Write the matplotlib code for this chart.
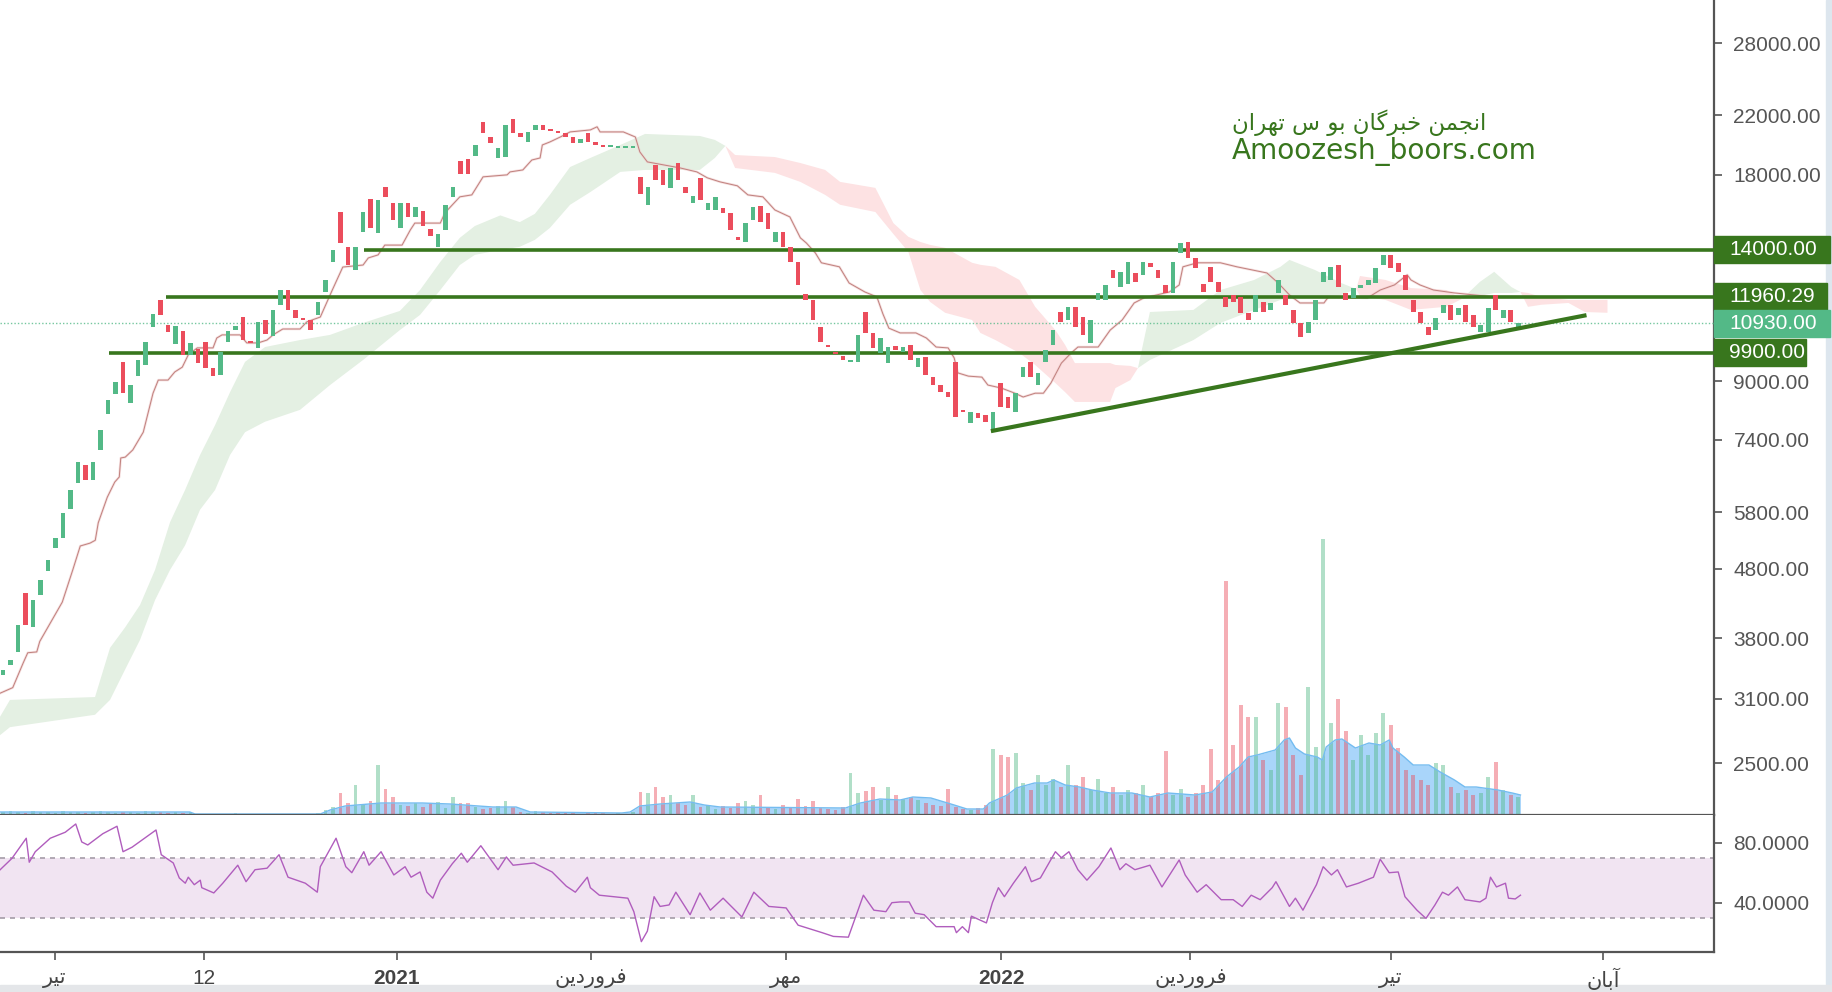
import numpy as np
import matplotlib.pyplot as plt
from matplotlib.patches import Rectangle
from matplotlib.transforms import IdentityTransform

plt.rcParams['font.family'] = ['Liberation Sans', 'DejaVu Sans']

# one entry per candle (bar index 0..202)
opens = [
    3360, 3480, 3630, 4430, 3950, 4400, 4760, 5140, 5320, 5870,
    6400, 6800, 6460, 7150, 8070, 8620, 9610, 8380, 9160, 9510,
    10810, 11830, 10880, 10200, 10650, 9840, 10030, 10270, 9410, 9190,
    10270, 10690, 11170, 10270, 10070, 11060, 10480, 11640, 12230, 11440,
    11140, 11060, 11250, 12150, 13440, 15890, 14140, 13080, 14860, 16610,
    14810, 17280, 16390, 15060, 16390, 15630, 15950, 15010, 14140, 14960,
    16720, 18860, 18980, 19180, 21500, 20440, 19050, 19110, 21710, 20730,
    20100, 20930, 21280, 20930, 20860, 20730, 20440, 20040, 20730, 20100,
    19900, 19770, 19700, 19700, 19700, 17880, 16280, 18610, 18300, 17230,
    18730, 17280, 16390, 17820, 16000, 16000, 16110, 15840, 14620, 14370,
    15470, 16220, 15840, 14370, 14860, 14140, 13440, 12060, 11830, 10790,
    10170, 9930, 9800, 9610, 9610, 11360, 10590, 9900, 9570, 10140,
    9930, 10170, 9440, 9770, 9130, 8890, 8680, 9610, 8180, 7830,
    8100, 8050, 7590, 8950, 8540, 8130, 9130, 9610, 8890, 9610,
    10170, 11360, 11060, 11560, 11170, 10240, 11830, 11830, 13080, 12350,
    12480, 12950, 12870, 13400, 13080, 12440, 12110, 13850, 14370, 13620,
    12480, 13220, 12570, 11950, 12030, 11950, 11330, 11360, 11750, 11440,
    12110, 12030, 11440, 10950, 10590, 11060, 12570, 12650, 13300, 12110,
    11910, 12310, 12440, 12520, 13300, 13760, 13400, 12870, 11830, 11360,
    10790, 10690, 11330, 11640, 11250, 11640, 11250, 10620, 10620, 12030,
    11140, 11440, 10690,
]
closes = [
    3420, 3530, 3970, 3970, 4320, 4620, 4940, 5320, 5790, 6250,
    6870, 6460, 6870, 7640, 8460, 8980, 8650, 8890, 9670, 10270,
    11290, 11250, 10620, 10840, 9840, 10240, 9570, 9410, 9160, 9930,
    10650, 10840, 10340, 10240, 10990, 10550, 11440, 12230, 11440, 11140,
    11060, 10690, 11750, 12650, 13990, 14320, 13300, 14140, 15890, 15060,
    16550, 16720, 15470, 16390, 15630, 16160, 15160, 14670, 14760, 16280,
    17280, 18060, 18060, 19900, 20730, 20040, 19700, 21280, 20730, 20440,
    20790, 21280, 20930, 20860, 20730, 20440, 20040, 20310, 20100, 19900,
    19770, 19770, 19700, 19700, 19700, 16880, 17280, 17700, 17410, 18420,
    17700, 16940, 16780, 16550, 16390, 16720, 15840, 14960, 14470, 15310,
    16160, 15360, 15010, 14860, 14140, 13440, 12440, 11830, 11060, 10270,
    10100, 9870, 9670, 9610, 10520, 10590, 10070, 10410, 10100, 10000,
    10100, 9670, 9740, 9190, 8890, 8680, 8540, 7990, 8130, 8130,
    7960, 7860, 8130, 8260, 8240, 8650, 9440, 9130, 9260, 10000,
    10690, 10990, 11560, 10790, 10520, 11060, 12110, 12440, 12730, 13000,
    13440, 12570, 13440, 13220, 12730, 12110, 13440, 14320, 13620, 13170,
    12150, 12570, 12150, 11560, 11750, 11330, 11060, 12030, 11360, 11710,
    12650, 11640, 10950, 10440, 10990, 11830, 13000, 13220, 12350, 11830,
    12310, 12440, 12650, 13170, 13760, 13170, 13000, 12230, 11360, 10950,
    10520, 11140, 11640, 11060, 11520, 10990, 10790, 10880, 11520, 11440,
    11440, 10990, 10930,
]
volumes = [
    3, 4, 3, 2, 4, 3, 3, 2, 4, 3, 3, 2, 3, 4, 3, 2, 3, 3, 2, 4, 3, 3, 2, 3, 2, 3,
    1, 0, 1, 0, 0, 2, 0, 1, 0, 0, 1, 0, 0, 0, 0, 1, 2,
    5, 8, 22, 12, 30, 10, 14, 50, 26, 18, 10,
    9, 12, 8, 11, 13, 7, 18, 12, 12,
    8, 6, 7, 9, 14, 8,
    3, 2, 4, 3, 2, 3, 2, 2, 1, 3, 2, 2, 1, 2, 1, 3,
    23, 22, 28, 18, 20, 12, 10, 20,
    8, 10, 6, 9, 7, 12, 14, 10, 20, 8, 6, 10, 8, 16, 9, 14, 7, 6, 5, 8,
    42, 22, 24, 28, 15, 28, 20, 16,
    18, 15, 12, 10, 9, 26, 8, 6, 5, 7,
    10, 66, 60, 58, 62, 32,
    25, 40, 30, 36, 28, 50, 30, 38, 25, 36, 22, 28, 20, 25, 22, 30, 18, 22, 64, 20,
    26, 18, 22, 30, 66, 35,
    234, 70, 110, 98, 98, 55, 45, 112, 108, 60, 40, 128, 68, 276, 92, 116, 84, 55, 80, 60,
    82, 102, 90, 67, 45, 40, 35, 30, 52, 50, 28, 22, 25, 20, 22, 38, 53, 25, 20, 18,
]

# volume moving average
vol_ma_x = [-0.4, 24.9, 25.6, 42.3, 43.6, 45.6, 50.4, 55.9, 59.6, 65.3,
            68.4, 70.3, 82.5, 83.6, 84.9, 87.6, 91.6, 93.5, 95.6, 112.3,
            114.3, 116.9, 119.6, 121.3, 123.7, 126.8, 128.5, 130.7, 131.5, 133.9,
            135.1, 137.5, 139.2, 140.1, 141.6, 143.5, 145.2, 147.6, 150.5, 152.9,
            155.3, 158.9, 161.2, 163.1, 164.8, 166.0, 167.2, 169.6, 170.8, 171.5,
            172.3, 173.5, 175.2, 175.9, 176.4, 177.6, 178.5, 180.3, 182.1, 183.6,
            184.8, 185.3, 186.8, 188.0, 190.1, 191.6, 193.5, 194.9, 196.4, 199.3,
            201.2, 202.3]
vol_ma = [3, 3, 1, 1, 5, 9, 12, 12, 11, 8,
          8, 3, 2, 3, 9, 11, 13, 10, 8, 7,
          12, 16, 15, 18, 17, 10, 6, 6, 12, 20,
          27, 32, 32, 35, 30, 28, 25, 22, 22, 18,
          22, 20, 23, 38, 48, 58, 60, 65, 75, 77,
          67, 61, 58, 55, 68, 75, 76, 67, 72, 70,
          75, 67, 58, 50, 50, 43, 35, 28, 28, 25,
          22, 20]

# ichimoku base line
kijun_x = [-0.4, 1.3, 2.7, 3.3, 4.5, 4.9, 6.3, 7.9, 9.3, 10.3,
           11.6, 12.3, 12.7, 13.9, 14.9, 15.5, 15.7, 16.3, 17.3, 18.7,
           20.0, 20.7, 22.0, 22.9, 23.9, 24.7, 25.9, 28.0, 28.5, 29.2,
           31.6, 32.5, 34.0, 35.2, 36.0, 37.3, 39.6, 40.5, 42.3, 43.9,
           45.3, 48.0, 48.7, 50.0, 50.9, 53.2, 54.3, 54.9, 58.3, 58.9,
           60.9, 62.5, 64.0, 67.2, 67.6, 69.3, 70.5, 71.6, 71.9, 72.9,
           74.3, 75.6, 78.3, 79.2, 79.6, 82.7, 84.3, 84.9, 85.9, 90.3,
           92.5, 93.9, 95.6, 97.9, 99.3, 101.3, 102.9, 104.9, 106.3, 107.1,
           108.3, 109.1, 111.5, 112.8, 114.9, 116.5, 117.3, 118.1, 119.6, 121.7,
           123.1, 124.4, 126.0, 126.8, 127.3, 128.7, 130.5, 131.3, 133.1, 134.9,
           136.0, 137.6, 138.7, 139.7, 141.1, 142.4, 143.3, 146.0, 147.6, 149.2,
           150.8, 152.1, 155.5, 156.8, 157.3, 159.2, 162.3, 164.5, 168.5, 170.0,
           171.5, 172.9, 176.1, 176.7, 181.9, 183.6, 185.5, 187.2, 187.7, 188.9,
           190.7, 193.5, 198.8, 202.3]
kijun = [3160, 3220, 3500, 3620, 3630, 3760, 4000, 4290, 4780, 5180,
         5230, 5280, 5600, 6100, 6420, 6530, 6960, 6980, 7150, 7590,
         8650, 9040, 9040, 9290, 9440, 9840, 10070, 10070, 10410, 10520,
         10520, 10240, 10240, 10340, 10520, 10730, 10730, 10990, 11170, 12230,
         13210, 13300, 13620, 13760, 14220, 14220, 14960, 15310, 15310, 15840,
         16720, 16830, 17880, 18000, 18180, 18300, 18920, 19050, 19900, 20100,
         20440, 20790, 20930, 21150, 20790, 20790, 20440, 19440, 18800, 18420,
         18180, 17820, 17580, 17350, 16830, 16720, 16000, 15630, 14570, 14320,
         13850, 13400, 13220, 12520, 12150, 11950, 11290, 10760, 10590, 10590,
         10410, 10100, 10070, 9740, 9260, 9160, 9130, 8890, 8800, 8650,
         8540, 8650, 8650, 8950, 9570, 9900, 10100, 10100, 10690, 11060,
         11710, 11910, 12150, 12440, 13220, 13400, 13400, 13220, 12950, 12520,
         12030, 11710, 11710, 11950, 11910, 12230, 12440, 12870, 12650, 12440,
         12230, 12110, 11950, 11950]

# ichimoku cloud (leading spans, shifted forward)
cloud_x = [-0.4, 0.93, 12.27, 14.27, 16.27, 18.27, 20.27, 22.27, 24.27, 26.27,
           28.27, 30.27, 32.27, 34.93, 39.6, 43.6, 48.0, 52.9, 55.6, 58.3,
           60.9, 62.9, 66.3, 68.9, 70.9, 72.9, 75.6, 78.3, 82.3, 85.6,
           92.9, 94.9, 96.3, 97.6, 102.9, 106.3, 109.6, 111.6, 116.3, 118.7,
           120.7, 122.3, 123.6, 125.6, 129.2, 130.3, 132.3, 135.5, 137.6, 140.3,
           141.6, 142.9, 147.6, 148.3, 150.3, 151.3, 152.9, 158.7, 162.3, 166.8,
           170.3, 171.5, 174.9, 178.4, 180.4, 180.9, 184.3, 187.7, 192.4, 194.5,
           196.9, 198.8, 201.1, 202.3, 203.3, 205.1, 208.7, 210.9, 213.9]
span_a = [2920, 3090, 3120, 3680, 3940, 4250, 4780, 5610, 6250, 7030,
          7770, 8680, 9610, 10100, 10340, 10520, 10950, 11400, 12230, 13440,
          14570, 15160, 15710, 15360, 15790, 16830, 18480, 19050, 19900, 20650,
          20510, 20240, 19840, 18420, 18120, 17580, 16830, 16280, 15890, 14760,
          13900, 12230, 11750, 11330, 11060, 10590, 10340, 9900, 9510, 8950,
          8680, 8400, 8400, 8800, 9040, 9410, 11360, 11440, 12230, 12650,
          13220, 13530, 13080, 12520, 12270, 11990, 11830, 11440, 11560, 11870,
          12570, 13000, 12350, 12150, 11560, 11640, 11710, 11360, 11330]
span_b = [2745, 2820, 2940, 3090, 3420, 3780, 4320, 4780, 5190, 5850,
          6250, 7030, 7590, 7860, 8180, 8890, 9670, 10690, 11250, 12230,
          13300, 13760, 13990, 14140, 14470, 15060, 16280, 16990, 18180, 18300,
          18300, 19050, 19840, 19240, 19110, 18730, 18300, 17580, 17230, 15310,
          14620, 14370, 14230, 14090, 13400, 13310, 13220, 12650, 11560, 10690,
          10170, 9570, 9570, 9510, 9480, 9410, 9670, 10340, 10950, 11440,
          11830, 11910, 11950, 12030, 12270, 12820, 12650, 12310, 12230, 11870,
          11990, 12110, 12110, 12150, 12110, 11950, 11830, 11830, 11830]

rsi_x = [-0.4, 1.2, 3.1, 3.5, 4.3, 6.3, 8.3, 9.7, 10.5, 11.3,
         13.3, 15.2, 16.0, 17.2, 20.4, 21.1, 22.7, 23.5, 24.3, 24.7,
         25.5, 26.3, 26.5, 28.1, 29.3, 31.3, 32.4, 33.6, 35.2, 36.8,
         38.0, 40.3, 41.9, 42.3, 44.4, 45.7, 46.5, 48.1, 48.8, 50.4,
         52.1, 53.6, 54.4, 55.6, 56.5, 57.3, 58.3, 59.9, 61.1, 61.9,
         63.7, 66.0, 67.1, 68.0, 70.8, 73.2, 75.1, 76.3, 77.9, 78.3,
         79.5, 83.3, 84.1, 85.1, 85.9, 86.8, 87.6, 88.8, 89.7, 91.6,
         92.9, 94.3, 96.0, 98.5, 100.1, 102.1, 104.4, 106.0, 109.2, 110.7,
         112.7, 114.7, 116.1, 117.7, 118.5, 119.6, 120.8, 121.6, 122.8, 124.4,
         126.8, 127.1, 127.9, 128.7, 129.1, 131.1, 131.9, 132.7, 133.5, 134.7,
         136.3, 137.1, 138.3, 140.3, 141.1, 142.1, 143.3, 144.5, 146.1, 147.7,
         148.9, 149.7, 150.9, 152.9, 154.5, 156.8, 157.6, 159.2, 160.4, 162.4,
         164.0, 165.2, 166.4, 167.6, 169.2, 169.7, 171.5, 172.3, 173.3, 175.1,
         176.0, 177.1, 177.9, 179.1, 180.7, 182.7, 183.6, 184.8, 186.0, 186.9,
         188.5, 189.7, 190.9, 191.9, 192.7, 193.9, 194.9, 196.9, 197.7, 198.3,
         199.1, 200.3, 200.7, 201.6, 202.3]
rsi = [61.9, 69.6, 83, 67, 74, 83, 87, 92.5, 80.5, 78.5,
       86, 91, 74, 77, 88.5, 72, 66.5, 56.5, 53, 57,
       52, 55, 50, 46.5, 53, 65, 54, 62, 63, 72,
       57, 53, 47, 64, 83, 64, 60, 74, 65, 74,
       58.5, 64, 57, 60.5, 47, 43, 55, 66, 73, 67,
       78, 62, 70.5, 65, 66.5, 60.5, 51, 47, 57, 50,
       45, 43, 34, 14, 21, 44, 37.5, 38.5, 47, 32,
       46.5, 35, 43, 30.5, 47, 37.5, 36.5, 25, 20, 17.5,
       17, 45, 35, 34, 40, 40.5, 40.5, 33, 32, 24,
       24, 20, 24, 20, 31, 26.5, 40, 50, 44, 53,
       64, 54, 56.5, 74, 70, 74, 62, 55, 64, 76.5,
       62, 66, 62, 65, 50.5, 68.5, 58.5, 47, 52, 42,
       42, 37.5, 45, 42, 50, 54, 37.5, 43, 35, 52,
       64, 58.5, 62, 50.5, 53, 57, 69, 60, 60.5, 44,
       35, 29.5, 38.5, 47, 45, 50.5, 42, 40.5, 43, 57,
       50.5, 53, 43, 42.5, 45]

levels = [14000, 11960.29, 9900]
level_start = [48.1, 21.7, 14.1]
last_price = 10930
trend_x = [131.7, 211.1]
trend_y = [7616, 11240]

price_ticks = [2500, 3100, 3800, 4800, 5800, 7400, 9000, 18000, 22000, 28000]
time_ticks = [6.9, 26.8, 52.5, 78.4, 104.4, 133.1, 158.3, 185.0, 213.3]
time_labels = ['تیر', '12', '2021', 'فروردین', 'مهر', '2022', 'فروردین', 'تیر', 'آبان']
watermark_fa = 'انجمن خبرگان بو س تهران'
watermark_en = 'Amoozesh_boors.com'

# simple persian shaping (matplotlib draws no joined forms by itself)
FORMS = {  # isolated, final, initial, medial
    '\u0627': ('\uFE8D', '\uFE8E', None, None),
    '\u0622': ('\uFE81', '\uFE82', None, None),
    '\u0628': ('\uFE8F', '\uFE90', '\uFE91', '\uFE92'),
    '\u062A': ('\uFE95', '\uFE96', '\uFE97', '\uFE98'),
    '\u062C': ('\uFE9D', '\uFE9E', '\uFE9F', '\uFEA0'),
    '\u062E': ('\uFEA5', '\uFEA6', '\uFEA7', '\uFEA8'),
    '\u062F': ('\uFEA9', '\uFEAA', None, None),
    '\u0631': ('\uFEAD', '\uFEAE', None, None),
    '\u0633': ('\uFEB1', '\uFEB2', '\uFEB3', '\uFEB4'),
    '\u0641': ('\uFED1', '\uFED2', '\uFED3', '\uFED4'),
    '\u0645': ('\uFEE1', '\uFEE2', '\uFEE3', '\uFEE4'),
    '\u0646': ('\uFEE5', '\uFEE6', '\uFEE7', '\uFEE8'),
    '\u0647': ('\uFEE9', '\uFEEA', '\uFEEB', '\uFEEC'),
    '\u0648': ('\uFEED', '\uFEEE', None, None),
    '\u06CC': ('\uFBFC', '\uFBFD', '\uFEF3', '\uFEF4'),
    '\u064A': ('\uFEF1', '\uFEF2', '\uFEF3', '\uFEF4'),
    '\u06AF': ('\uFB92', '\uFB93', '\uFB94', '\uFB95'),
}


def shape(text):
    out = []
    for i, ch in enumerate(text):
        if ch not in FORMS:
            out.append(ch)
            continue
        prev = text[i - 1] if i > 0 else ''
        nxt = text[i + 1] if i + 1 < len(text) else ''
        join_prev = prev in FORMS and FORMS[prev][2] is not None
        join_next = nxt in FORMS and FORMS[ch][2] is not None
        iso, fin, ini, med = FORMS[ch]
        if join_prev and join_next:
            out.append(med)
        elif join_prev:
            out.append(fin)
        elif join_next:
            out.append(ini)
        else:
            out.append(iso)
    if any(ch in FORMS for ch in text):
        return ''.join(reversed(out))
    return text


UP = '#53b987'
DOWN = '#eb4d5c'
LEVEL = '#38761d'
W, H = 1832, 992
XMAX = 228.1


def rect(x0, y0, x1, y1):
    return [x0 / W, 1 - y1 / H, (x1 - x0) / W, (y1 - y0) / H]


fig = plt.figure(figsize=(W / 100, H / 100), dpi=100)
axv = fig.add_axes(rect(0, 0, 1714, 815), zorder=0)
ax = fig.add_axes(rect(0, 0, 1714, 815), zorder=1)
axr = fig.add_axes(rect(0, 815, 1714, 952), zorder=1)
ax.patch.set_alpha(0)

# volume + its average
bars = np.arange(len(closes))
o = np.array(opens, dtype=float)
c = np.array(closes, dtype=float)
up = c >= o
axv.fill_between(vol_ma_x, 0, vol_ma, color='#a9d5fa', lw=0)
axv.plot(vol_ma_x, vol_ma, color='#74bcf0', lw=1)
axv.bar(bars, volumes, width=0.5, color=np.where(up, UP, DOWN), alpha=0.45, lw=0)
axv.set_xlim(-0.4, XMAX)
axv.set_ylim(0, 815)
axv.axis('off')

# cloud
a = np.array(span_a)
b = np.array(span_b)
ax.fill_between(cloud_x, a, b, where=a >= b, interpolate=True, color='#e4f0e3', lw=0, zorder=1)
ax.fill_between(cloud_x, a, b, where=a <= b, interpolate=True, color='#fde2e3', lw=0, zorder=1)

# base line
ax.plot(kijun_x, kijun, color='#efcaca', lw=1.8, alpha=0.6, zorder=2)
ax.plot(kijun_x, kijun, color='#c0807d', lw=0.7, zorder=2)

# candles
lo = np.minimum(o, c)
hi = np.maximum(np.maximum(o, c), lo * 1.007)
ax.bar(bars, hi - lo, bottom=lo, width=0.62, color=np.where(up, UP, DOWN), lw=0, zorder=4)

# levels and trend
ax.hlines(levels, level_start, XMAX, colors=LEVEL, lw=2.6, zorder=3)
ax.axhline(last_price, color=UP, lw=1, ls=(0, (1, 1.5)), alpha=0.8, zorder=3)
ax.plot(trend_x, trend_y, color=LEVEL, lw=3, solid_capstyle='butt', zorder=5)

ax.set_yscale('log')
ax.set_ylim(2100, 32370)
ax.set_xlim(-0.4, XMAX)
ax.yaxis.tick_right()
ax.set_yticks(price_ticks)
ax.set_yticklabels(['%.2f' % t for t in price_ticks])
ax.yaxis.set_minor_locator(plt.NullLocator())
ax.tick_params(axis='y', colors='#555555', labelsize=15, length=6, width=1.2, pad=8)
ax.set_xticks([])
for s in ['left', 'top']:
    ax.spines[s].set_visible(False)
for s in ['right', 'bottom']:
    ax.spines[s].set_color('#555555')
    ax.spines[s].set_linewidth(1.6)

# rsi
axr.axhspan(30, 70, color='#f1e4f2', lw=0)
for v in (30, 70):
    axr.axhline(v, color='#a59ca8', lw=1.2, ls=(0, (3, 3)))
axr.plot(rsi_x, rsi, color='#b05dbd', lw=1)
axr.set_xlim(-0.4, XMAX)
axr.set_ylim(7.1, 98.5)
axr.yaxis.tick_right()
axr.set_yticks([40, 80])
axr.set_yticklabels(['40.0000', '80.0000'])
axr.tick_params(axis='y', colors='#555555', labelsize=15, length=6, width=1.2, pad=8)
axr.set_xticks(time_ticks)
axr.set_xticklabels([shape(t) for t in time_labels])
axr.tick_params(axis='x', colors='#555555', labelcolor='#444444', labelsize=15, length=6, width=1.2, pad=6)
for lab in axr.get_xticklabels():
    if lab.get_text() in ('2021', '2022'):
        lab.set_fontweight('bold')
for s in ['left', 'top']:
    axr.spines[s].set_visible(False)
for s in ['right', 'bottom']:
    axr.spines[s].set_color('#555555')
    axr.spines[s].set_linewidth(1.6)

# price labels on the scale
boxes = [(14000, '14000.00', LEVEL, 116), (11960.29, '11960.29', LEVEL, 113),
         (last_price, '10930.00', UP, 116), (9900, '9900.00', LEVEL, 92)]
for price, txt, bg, w in boxes:
    ypx = ax.transData.transform((0, price))[1]
    fig.add_artist(Rectangle((1714, ypx - 13.5), w, 27, transform=IdentityTransform(),
                             color=bg, zorder=5))
    fig.text(1729 / W, ypx / H, txt, color='white', fontsize=15, va='center', zorder=6)

# watermark
fig.text(1486 / W, 1 - 130 / H, shape(watermark_fa), color=LEVEL, fontsize=16.5,
         family='DejaVu Sans', ha='right', va='baseline')
fig.text(1232 / W, 1 - 159 / H, watermark_en, color=LEVEL, fontsize=20.2,
         family='DejaVu Sans', va='baseline')

# frame strips
fig.add_artist(Rectangle((1826 / W, 0), 6 / W, 1, transform=fig.transFigure, color='#dde6ee', zorder=0))
fig.add_artist(Rectangle((0, 0), 1, 7 / H, transform=fig.transFigure, color='#e4e6e9', zorder=0))

fig.savefig('out.png', dpi=100)
